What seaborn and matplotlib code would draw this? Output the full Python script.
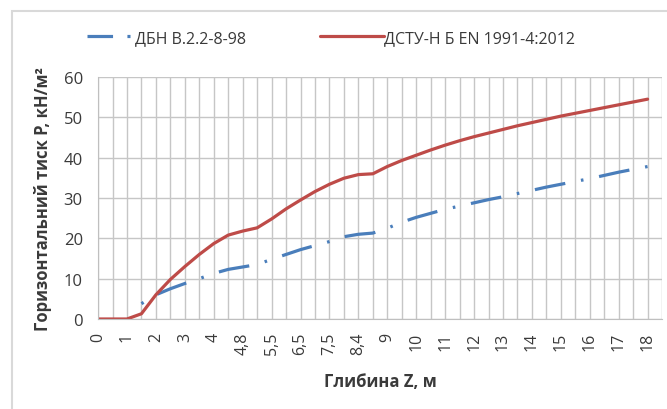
import numpy as np
import matplotlib.pyplot as plt
import seaborn as sns
from matplotlib.lines import Line2D
from matplotlib.patches import Rectangle

# Depth categories (Excel category axis, every second one labelled)
depth_labels = ['0', '0,5', '1', '1,5', '2', '2,5', '3', '3,5', '4', '4,5',
                '4,8', '5', '5,5', '6', '6,5', '7', '7,5', '8', '8,4', '8,5',
                '9', '9,5', '10', '10,5', '11', '11,5', '12', '12,5', '13', '13,5',
                '14', '14,5', '15', '15,5', '16', '16,5', '17', '17,5', '18']

# ДСТУ-Н Б EN 1991-4:2012
p_dstu = [0, 0, 0, 1.3, 6.0, 9.8, 13.0, 16.0, 18.7, 20.8,
          21.8, 22.6, 24.8, 27.3, 29.5, 31.6, 33.4, 34.9, 35.8, 36.0,
          37.8, 39.3, 40.6, 41.9, 43.1, 44.2, 45.2, 46.1, 47.0, 47.9,
          48.7, 49.5, 50.3, 51.0, 51.7, 52.4, 53.1, 53.8, 54.5]

# ДБН В.2.2-8-98 (no values for the first three depths)
p_dbn = [np.nan, np.nan, np.nan, 3.8, 6.0, 7.5, 8.8, 10.0, 11.3, 12.3,
         12.9, 13.5, 14.8, 16.0, 17.2, 18.2, 19.2, 20.4, 21.0, 21.3,
         22.5, 24.0, 25.2, 26.2, 27.2, 28.0, 28.8, 29.6, 30.3, 31.1,
         31.9, 32.7, 33.4, 34.1, 34.8, 35.6, 36.4, 37.1, 37.8]

blue = '#4A7EBB'
red = '#BE4B48'
txt = '#3A3A3A'

sns.set_style('white')
plt.rcParams['font.family'] = ['Open Sans', 'DejaVu Sans']

pos = np.arange(len(depth_labels))

fig = plt.figure(figsize=(6.67, 4.10), dpi=100)
ax = fig.add_axes([0.147, 0.2195, 0.8456, 0.5903])

# long dash - dot, starting on the dot like the Excel line
sns.lineplot(x=pos, y=p_dbn, ax=ax, color=blue, linewidth=2.3,
             linestyle=(14.7, (9.7, 5, 0.8, 5)), legend=False)
sns.lineplot(x=pos, y=p_dstu, ax=ax, color=red, linewidth=2.3, legend=False)

ax.set_xlim(0, len(depth_labels))
ax.set_ylim(0, 60)
ax.set_xticks(np.arange(len(depth_labels) + 1))
ax.set_xticklabels([lab if i % 2 == 0 else '' for i, lab in enumerate(depth_labels)] + [''],
                   rotation=90)
ax.set_yticks(np.arange(0, 61, 10))

ax.grid(True, color='#C6C6C6', linewidth=1)
ax.set_axisbelow(True)
for side in ['top', 'right']:
    ax.spines[side].set_visible(False)
for side in ['left', 'bottom']:
    ax.spines[side].set_color('#BFBFBF')
ax.tick_params(axis='both', length=6, color='#BFBFBF', labelcolor=txt)
ax.tick_params(axis='y', labelsize=12, pad=5)
ax.tick_params(axis='x', labelsize=11.5, pad=3)

ax.set_xlabel('Глибина Z, м', fontsize=12, fontweight='bold', color=txt, labelpad=13)
ax.set_ylabel('Горизонтальний тиск P, кН/м²', fontsize=12, fontweight='bold',
              color=txt, labelpad=8)

# legend: two single-entry legends so each handle gets its own length
h_blue = Line2D([], [], color=blue, linewidth=2.3, linestyle=(0, (8, 4.5, 0.8, 0)))
h_red = Line2D([], [], color=red, linewidth=2.3)
fig.legend(handles=[h_blue], labels=['ДБН В.2.2-8-98'], loc='center left',
           bbox_to_anchor=(73 / 667, 0.905), frameon=False, handlelength=2.66,
           handletextpad=0.3, fontsize=11.5, labelcolor=txt)
fig.legend(handles=[h_red], labels=['ДСТУ-Н Б EN 1991-4:2012'], loc='center left',
           bbox_to_anchor=(306 / 667, 0.905), frameon=False, handlelength=4.0,
           handletextpad=0.0, fontsize=11.5, labelcolor=txt)

# chart area border
fig.patches.append(Rectangle((12 / 667, -0.1), 2, 1.1 - 12 / 410, transform=fig.transFigure,
                             fill=False, edgecolor='#D9D9D9', linewidth=1.5))

plt.savefig('out.png', dpi=100)
